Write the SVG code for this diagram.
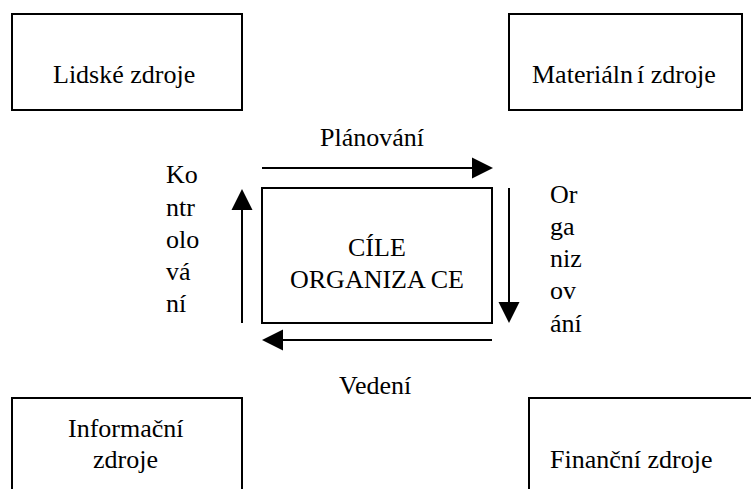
<svg xmlns="http://www.w3.org/2000/svg" width="751" height="489" viewBox="0 0 751 489">
<style>
.box{fill:#fff;stroke:#000;stroke-width:2}
.t{font-family:Liberation Serif, Tinos, Times New Roman, Times, serif;font-size:26px;fill:#000}
.c{stroke:#000;stroke-width:2;fill:none}
</style>
<defs>
<marker id="ah" markerUnits="userSpaceOnUse" markerWidth="22" markerHeight="22" refX="0" refY="10.5" orient="auto" viewBox="0 0 22 21">
<path d="M0,0 L21,10.5 L0,21 z" fill="#000"/>
</marker>
</defs>
<rect width="751" height="489" fill="#fff"/>
<g id="lidske">
<rect class="box" x="12" y="14" width="230" height="96"/>
<text class="t" x="53" y="83">Lidské zdroje</text>
</g>
<g id="materialni">
<rect class="box" x="509" y="14" width="233" height="96"/>
<text class="t" x="532" y="83">Materiáln<tspan dx="4">í zdroje</tspan></text>
</g>
<g id="informacni">
<rect class="box" x="12" y="398" width="230" height="100"/>
<text class="t" x="68" y="437">Informační</text>
<text class="t" x="93" y="468">zdroje</text>
</g>
<g id="financni">
<rect class="box" x="529" y="398" width="240" height="100"/>
<text class="t" x="550" y="468">Finanční zdroje</text>
</g>
<g id="cile">
<rect class="box" x="262" y="188" width="230" height="135"/>
<text class="t" x="348" y="256">CÍLE</text>
<text class="t" x="290" y="288">ORGANIZA<tspan dx="5">CE</tspan></text>
</g>
<g id="connectors">
<line class="c" x1="262" y1="168" x2="472" y2="168" marker-end="url(#ah)"/>
<line class="c" x1="509" y1="188" x2="509" y2="302" marker-end="url(#ah)"/>
<line class="c" x1="492" y1="340" x2="283" y2="340" marker-end="url(#ah)"/>
<line class="c" x1="242" y1="323" x2="242" y2="210" marker-end="url(#ah)"/>
</g>
<g id="labels">
<text class="t" x="320" y="146">Plánování</text>
<text class="t" x="339" y="394">Vedení</text>
<text class="t" x="166" y="183">Ko</text>
<text class="t" x="166" y="216">ntr</text>
<text class="t" x="166" y="248">olo</text>
<text class="t" x="166" y="280">vá</text>
<text class="t" x="166" y="312">ní</text>
<text class="t" x="550" y="203">Or</text>
<text class="t" x="550" y="235">ga</text>
<text class="t" x="550" y="267">niz</text>
<text class="t" x="550" y="299">ov</text>
<text class="t" x="550" y="332">ání</text>
</g>
</svg>
